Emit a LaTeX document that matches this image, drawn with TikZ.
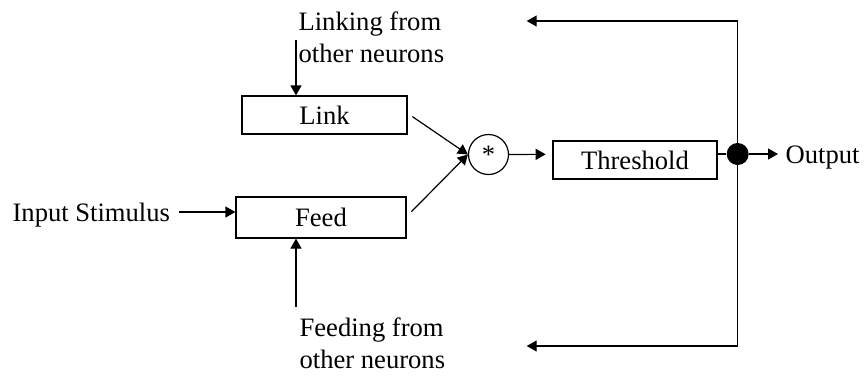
\documentclass[tikz,border=0pt]{standalone}
\usepackage{fontspec}
\setmainfont{Liberation Serif}
\usetikzlibrary{arrows.meta}
\begin{document}
\begin{tikzpicture}[x=0.5pt,y=-0.5pt,
  font=\fontsize{13.3}{15.75}\selectfont,
  line width=0.6pt,
  arr/.style={-{Triangle[length=5pt,width=5.5pt]}},
  blk/.style={draw,rectangle,inner sep=0pt},
  lbl/.style={inner sep=0pt,align=left}]
\useasboundingbox (0,0) rectangle (864,376);
% blocks
\node[blk,minimum width=82.5pt,minimum height=19pt] (link) at (324.5,115) {Link};
\node[blk,minimum width=85pt,minimum height=20.5pt] (feed) at (321,217.5) {Feed};
\node[blk,minimum width=82pt,minimum height=19pt] (thr) at (635,160) {Threshold};
\node[draw,circle,inner sep=0pt,minimum size=20pt] (mult) at (488.5,154.5) {*};
\node[fill,circle,inner sep=0pt,minimum size=11pt] (dot) at (737.7,154) {};
% labels
\node[lbl,anchor=north west] (linklbl) at (298,11.6) {Linking from\\other neurons};
\node[lbl,anchor=north west] (feedlbl) at (299,317.6) {Feeding from\\other neurons};
\node[lbl,anchor=base west] (inp) at (12,221.5) {Input Stimulus};
\node[lbl,anchor=base west] (out) at (785,163) {Output};
% coordinates
\coordinate (lt) at (296,40);
\coordinate (fbot) at (296,307);
\coordinate (fbt) at (526.7,21);
\coordinate (fbb) at (526.7,346);
\coordinate (inend) at (179,212);
\coordinate (thrin) at (545.7,154.3);
% connectors
\draw[arr] (lt) -- (lt |- link.north);
\draw[arr] (fbot) -- (fbot |- feed.south);
\draw[arr] (inend) -- (inend -| feed.west);
\draw[arr] ([shift={(2.4pt,-0.8pt)}]link.east) -- (mult.west);
\draw[arr] ([shift={(2.4pt,2.9pt)}]feed.east) -- (mult.west);
\draw[arr] (mult.east) -- (thrin);
\draw (thr.east |- dot) -- (dot);
\draw[arr] (dot.east) -- ([xshift=-3.5pt]out.west |- dot);
\draw[arr] (dot.center) |- (fbt);
\draw[arr] (dot.center) |- (fbb);
\end{tikzpicture}
\end{document}
